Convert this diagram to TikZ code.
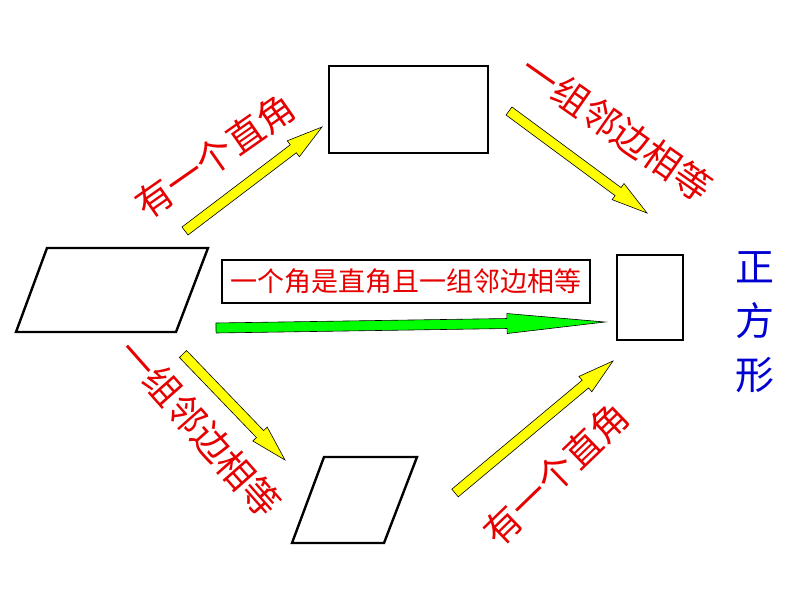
\documentclass[tikz,border=0pt]{standalone}
\usepackage{fontspec}
\newfontfamily\cjk{Noto Sans CJK SC}
\usetikzlibrary{calc}
\definecolor{lblred}{RGB}{230,0,0}
\definecolor{lblblue}{RGB}{0,0,210}
\definecolor{arrowyellow}{RGB}{255,255,0}
\definecolor{arrowgreen}{RGB}{0,255,0}
\tikzset{
  shapeline/.style={draw=black,line width=2.4pt,line join=miter},
  bigtext/.style={text=lblred,font=\cjk\fontsize{37}{37}\selectfont,inner sep=0pt},
  sidetext/.style={text=lblblue,font=\cjk\fontsize{39}{54}\selectfont,inner sep=0pt,align=center},
  midbox/.style={draw=black,line width=1.6pt,text=lblred,font=\cjk\fontsize{27}{27}\selectfont,minimum width=368pt,minimum height=43pt,inner sep=0pt},
}
% \blockarrow{tail}{tip}{fill}{shaft half}{head half}{head length}
\newcommand{\blockarrow}[6]{%
  \path let \p1=(#1), \p2=(#2), \n1={atan2(\y2-\y1,\x2-\x1)}, \n2={veclen(\x2-\x1,\y2-\y1)} in
    [shift={(\p1)},rotate=\n1]
    [draw=black,line width=0.6pt,fill=#3,line join=miter]
    (0,-#4) -- ({\n2-#6},-#4) -- ({\n2-#6},-#5) -- (\n2,0) -- ({\n2-#6},#5) -- ({\n2-#6},#4) -- (0,#4) -- cycle;}
\begin{document}
\begin{tikzpicture}[x=1pt,y=-1pt]
\useasboundingbox[fill=white] (0,0) rectangle (794,596);
% shapes
\node[shapeline,minimum width=159pt,minimum height=87pt,inner sep=0pt] (rect) at (408.5,109.5) {};
\node[shapeline,minimum width=66pt,minimum height=85pt,inner sep=0pt] (sq) at (650,297.5) {};
\draw[shapeline] (16,332) -- (47,248) -- (208,248) -- (176,332) -- cycle;
\draw[shapeline] (292,543) -- (324,457) -- (417,457) -- (384,543) -- cycle;
% arrow end points
\coordinate (a1s) at (185,231);
\coordinate (a1e) at (322,127);
\coordinate (a2s) at (509,111);
\coordinate (a2e) at (647,213);
\coordinate (a3s) at (183,354);
\coordinate (a3e) at (285,460);
\coordinate (a4s) at (455,493);
\coordinate (a4e) at (613,361);
\coordinate (a5s) at (216,328);
\coordinate (a5e) at (605,322);
\blockarrow{a1s}{a1e}{arrowyellow}{5}{10}{36}
\blockarrow{a2s}{a2e}{arrowyellow}{5}{10}{36}
\blockarrow{a3s}{a3e}{arrowyellow}{5}{10}{36}
\blockarrow{a4s}{a4e}{arrowyellow}{5}{10}{36}
\blockarrow{a5s}{a5e}{arrowgreen}{5}{10}{98}
% labels
\node[bigtext,rotate=35] (l1) at (215,156) {有一个直角};
\node[bigtext,rotate=-35] (l2) at (617,128) {一组邻边相等};
\node[bigtext,rotate=-48.5] (l3) at (200,428) {一组邻边相等};
\node[bigtext,rotate=44] (l4) at (556,474) {有一个直角};
\node[midbox] (mid) at (406,281.5) {一个角是直角且一组邻边相等};
\node[sidetext] (zf) at (755,322) {正\\方\\形};
\end{tikzpicture}
\end{document}
